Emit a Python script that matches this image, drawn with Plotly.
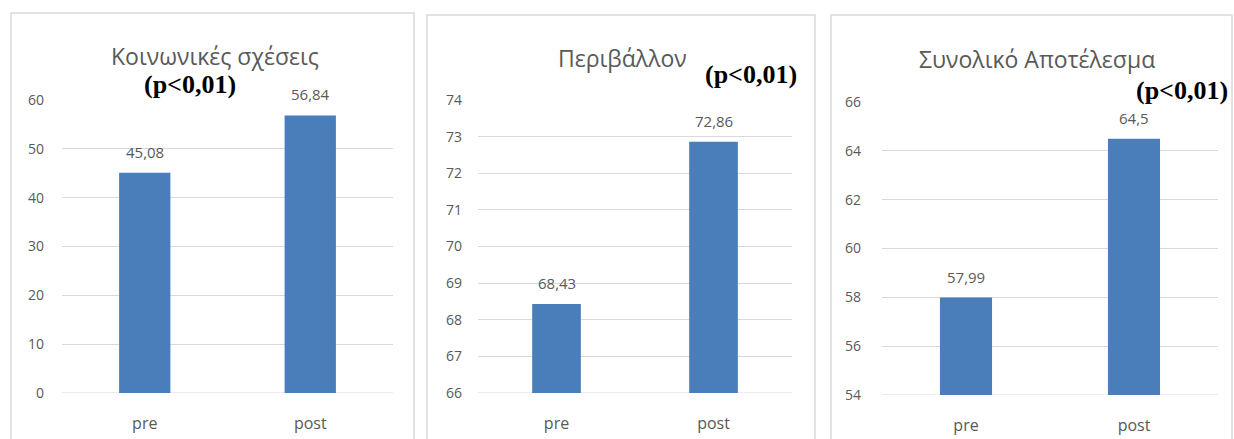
import plotly.graph_objects as go

W, H = 1234, 439

# ---- data ----
categories = ["pre", "post"]
titles = ["Κοινωνικές σχέσεις", "Περιβάλλον", "Συνολικό Αποτέλεσμα"]
social_values = [45.08, 56.84]
environment_values = [68.43, 72.86]
total_values = [57.99, 64.5]
p_label = "(p<0,01)"
y_ranges = [[0, 60], [66, 74], [54, 66]]
y_dticks = [10, 1, 2]

series = [social_values, environment_values, total_values]

# ---- layout (pixels) ----
plot_x = [(62, 393), (478, 792), (882, 1218)]
plot_y = [(100, 393), (100, 393), (102, 395)]
frames = [(11, 414, 13), (427, 815, 15), (831, 1232, 15)]
title_pos = [(215, 56), (622, 58), (1037, 59)]
p_pos = [(190, 84), (751, 75), (1182, 90)]
ylabel_standoff = [17, 15, 20]

BAR = "#4a7ebb"
GRID = "#d9d9d9"
TXT = "#595959"
FONT = "Open Sans, Noto Sans, DejaVu Sans, sans-serif"


def fx(px):
    return px / W


def fy(py):
    return 1 - py / H


fig = go.Figure()
annotations = []
shapes = []

for i, vals in enumerate(series):
    n = "" if i == 0 else str(i + 1)
    xa, ya = "x" + n, "y" + n
    base = y_ranges[i][0]
    fig.add_trace(go.Bar(
        x=categories, y=[v - base for v in vals], base=base,
        xaxis=xa, yaxis=ya,
        marker=dict(color=BAR, line=dict(width=0)),
        width=0.31, showlegend=False, hoverinfo="x",
        cliponaxis=False,
    ))

    fig.update_layout(**{
        "xaxis" + n: dict(
            domain=[fx(plot_x[i][0]), fx(plot_x[i][1])],
            anchor=ya, showgrid=False, showline=False, zeroline=False,
            ticks="", tickfont=dict(family=FONT, size=16, color=TXT),
            ticklabelstandoff=19, automargin=False, fixedrange=True,
        ),
        "yaxis" + n: dict(
            domain=[fy(plot_y[i][1]), fy(plot_y[i][0])],
            anchor=xa, range=y_ranges[i], dtick=y_dticks[i],
            showgrid=True, gridcolor=GRID, gridwidth=1,
            zeroline=False, showline=False, ticks="",
            tickfont=dict(family=FONT, size=14, color=TXT),
            ticklabelstandoff=ylabel_standoff[i], automargin=False,
            fixedrange=True,
        ),
    })

    # bottom gridline (baseline)
    shapes.append(dict(type="line", xref="x" + n + " domain", yref=ya,
                       x0=0, x1=1, y0=base, y1=base,
                       line=dict(color=GRID, width=1), layer="below"))

    # data labels
    for c, v in zip(categories, vals):
        annotations.append(dict(
            x=c, y=v, xref=xa, yref=ya, text=f"{v:g}".replace(".", ","),
            showarrow=False, yanchor="bottom", yshift=9,
            font=dict(family=FONT, size=15, color=TXT),
        ))

    # title
    annotations.append(dict(
        x=fx(title_pos[i][0]), y=fy(title_pos[i][1]), xref="paper", yref="paper",
        text=titles[i], showarrow=False, xanchor="center", yanchor="middle",
        font=dict(family=FONT, size=23, color=TXT),
    ))
    # p label
    annotations.append(dict(
        x=fx(p_pos[i][0]), y=fy(p_pos[i][1]), xref="paper", yref="paper",
        text="<b>" + p_label + "</b>", showarrow=False,
        xanchor="center", yanchor="middle",
        font=dict(family="Liberation Serif, Times New Roman, serif", size=26, color="#000000"),
    ))

    # frame
    fx0, fx1, fy0 = frames[i]
    shapes.append(dict(type="rect", xref="paper", yref="paper",
                       x0=fx(fx0), x1=fx(fx1), y0=-0.1, y1=fy(fy0),
                       line=dict(color=GRID, width=1.5), layer="below"))

fig.update_layout(
    width=W, height=H, autosize=False,
    margin=dict(l=0, r=0, t=0, b=0, pad=0, autoexpand=False),
    paper_bgcolor="white", plot_bgcolor="rgba(0,0,0,0)",
    annotations=annotations, shapes=shapes,
)

fig.write_html("out.html")
